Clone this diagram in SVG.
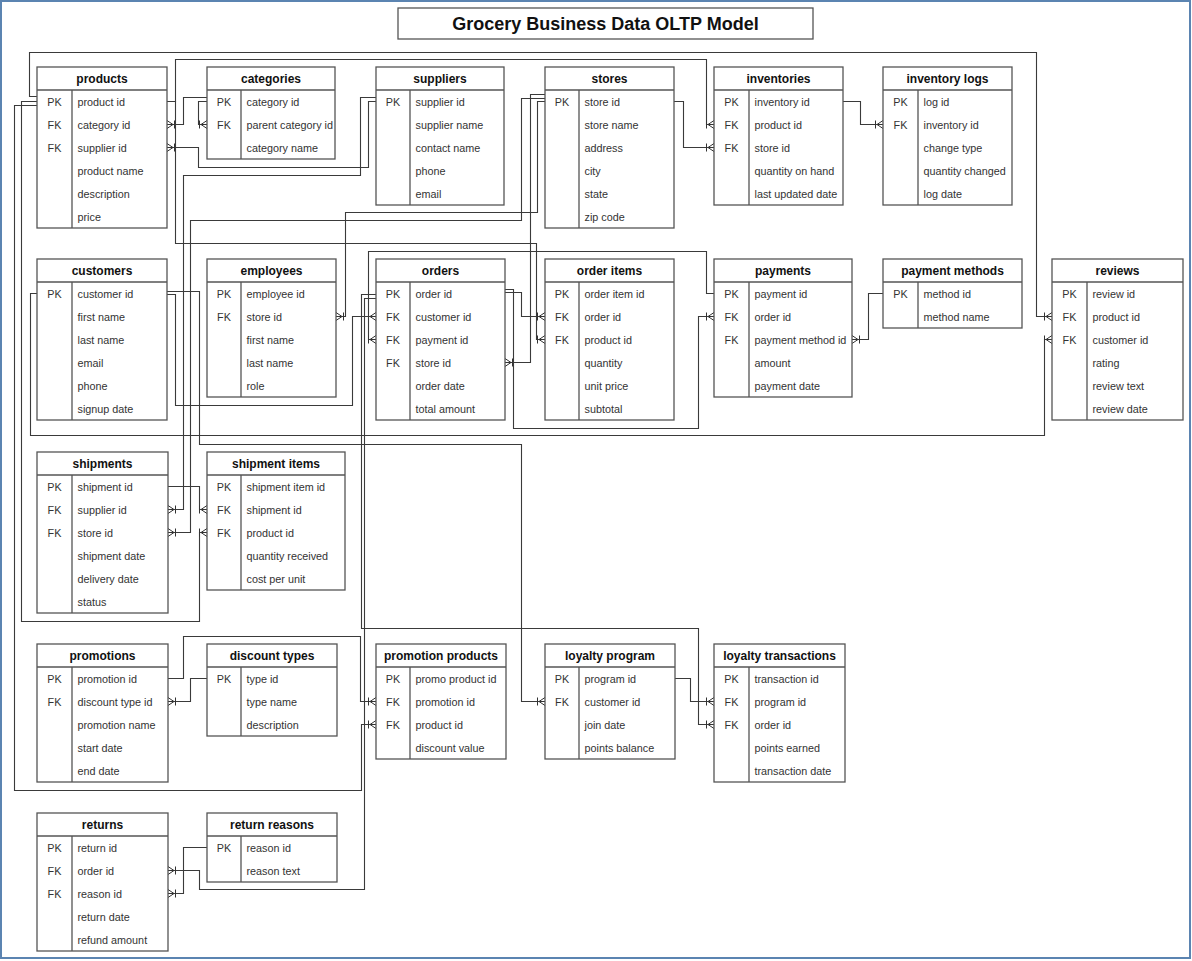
<svg xmlns="http://www.w3.org/2000/svg" width="1192" height="961" viewBox="0 0 1192 961">
<defs>
<style>
.tb{fill:#fff;stroke:#555;stroke-width:1.3}
.ln{fill:none;stroke:#555;stroke-width:1.3}
.h{font-family:"Liberation Sans",Arial,Helvetica,sans-serif;font-size:12px;font-weight:bold;fill:#111;text-anchor:middle}
.k{font-family:"Liberation Sans",Arial,Helvetica,sans-serif;font-size:10.8px;fill:#333;text-anchor:middle}
.f{font-family:"Liberation Sans",Arial,Helvetica,sans-serif;font-size:10.8px;fill:#333}
.c{fill:none;stroke:#3a3a3a;stroke-width:1.1;marker-end:url(#crow)}
</style>
<marker id="crow" viewBox="0 0 9 9" refX="9" refY="4.5" markerWidth="9" markerHeight="9" markerUnits="userSpaceOnUse" orient="auto">
<path d="M1.5,0.5V8.5M3,4.5L9,0.5M3,4.5H9M3,4.5L9,8.5" fill="none" stroke="#333" stroke-width="1"/>
</marker>
</defs>
<rect x="0" y="0" width="1192" height="961" fill="#fff"/>
<rect x="1" y="1" width="1189" height="957" fill="none" stroke="#5b84b1" stroke-width="2"/>
<g id="title">
<rect x="398" y="8" width="415" height="31" fill="#fff" stroke="#555" stroke-width="1.3"/>
<text x="605.5" y="30" font-family="'Liberation Sans',Arial,Helvetica,sans-serif" font-size="18" font-weight="bold" text-anchor="middle" fill="#111">Grocery Business Data OLTP Model</text>
</g>
<g id="connectors">
<path class="c" d="M207,97.5H183.5V124.5H167"/>
<path class="c" d="M207,101.5H198.5V124.5H207"/>
<path class="c" d="M376,101.5H368.5V167.5H198.5V147.5H167"/>
<path class="c" d="M376,97.5H360.5V175.5H183.5V509.5H168"/>
<path class="c" d="M167,101.5H175.5V59.5H706.5V124.5H714"/>
<path class="c" d="M167,101.5H175.5V243.5H536.5V339.5H545"/>
<path class="c" d="M37,96.5H29.5V52.5H1036.5V316.5H1052"/>
<path class="c" d="M37,101.5H21.5V621.5H199.5V532.5H207"/>
<path class="c" d="M37,105.5H14.5V790.5H361.5V724.5H376"/>
<path class="c" d="M674,101.5H683.5V147.5H714"/>
<path class="c" d="M843,101.5H860.5V124.5H883"/>
<path class="c" d="M545,101.5H537.5V212.5H345.5V316.5H336"/>
<path class="c" d="M545,98.5H521.5V220.5H190.5V532.5H168"/>
<path class="c" d="M545,94.5H530.5V362.5H505"/>
<path class="c" d="M167,294.5H175.5V405.5H352.5V316.5H376"/>
<path class="c" d="M167,291.5H199.5V444.5H521.5V701.5H545"/>
<path class="c" d="M37,293.5H30.5V435.5H1044.5V339.5H1052"/>
<path class="c" d="M714,293.5H706.5V251.5H368.5V339.5H376"/>
<path class="c" d="M505,289.5H513.5V428.5H698.5V316.5H714"/>
<path class="c" d="M505,292.5H521.5V316.5H545"/>
<path class="c" d="M376,294.5H361.5V628.5H698.5V724.5H714"/>
<path class="c" d="M376,298.5H364.5V889.5H199.5V870.5H168"/>
<path class="c" d="M883,293.5H868.5V339.5H852"/>
<path class="c" d="M168,486.5H199.5V509.5H207"/>
<path class="c" d="M207,678.5H190.5V701.5H168"/>
<path class="c" d="M168,678.5H183.5V636.5H360.5V701.5H376"/>
<path class="c" d="M675,678.5H690.5V701.5H714"/>
<path class="c" d="M207,847.5H183.5V893.5H168"/>
</g>
<g id="products">
<rect class="tb" x="37" y="67" width="130" height="161"/>
<path class="ln" d="M37,90H167M72,90V228"/>
<text class="h" x="102" y="83">products</text>
<text class="k" x="54.5" y="105.5">PK</text><text class="k" x="54.5" y="128.5">FK</text><text class="k" x="54.5" y="151.5">FK</text>
<text class="f" x="77.5" y="105.5">product id</text><text class="f" x="77.5" y="128.5">category id</text><text class="f" x="77.5" y="151.5">supplier id</text><text class="f" x="77.5" y="174.5">product name</text><text class="f" x="77.5" y="197.5">description</text><text class="f" x="77.5" y="220.5">price</text>
</g>
<g id="categories">
<rect class="tb" x="207" y="67" width="128" height="92"/>
<path class="ln" d="M207,90H335M241,90V159"/>
<text class="h" x="271" y="83">categories</text>
<text class="k" x="224" y="105.5">PK</text><text class="k" x="224" y="128.5">FK</text>
<text class="f" x="246.5" y="105.5">category id</text><text class="f" x="246.5" y="128.5">parent category id</text><text class="f" x="246.5" y="151.5">category name</text>
</g>
<g id="suppliers">
<rect class="tb" x="376" y="67" width="128" height="138"/>
<path class="ln" d="M376,90H504M410,90V205"/>
<text class="h" x="440" y="83">suppliers</text>
<text class="k" x="393" y="105.5">PK</text>
<text class="f" x="415.5" y="105.5">supplier id</text><text class="f" x="415.5" y="128.5">supplier name</text><text class="f" x="415.5" y="151.5">contact name</text><text class="f" x="415.5" y="174.5">phone</text><text class="f" x="415.5" y="197.5">email</text>
</g>
<g id="stores">
<rect class="tb" x="545" y="67" width="129" height="161"/>
<path class="ln" d="M545,90H674M579,90V228"/>
<text class="h" x="609.5" y="83">stores</text>
<text class="k" x="562" y="105.5">PK</text>
<text class="f" x="584.5" y="105.5">store id</text><text class="f" x="584.5" y="128.5">store name</text><text class="f" x="584.5" y="151.5">address</text><text class="f" x="584.5" y="174.5">city</text><text class="f" x="584.5" y="197.5">state</text><text class="f" x="584.5" y="220.5">zip code</text>
</g>
<g id="inventories">
<rect class="tb" x="714" y="67" width="129" height="138"/>
<path class="ln" d="M714,90H843M749,90V205"/>
<text class="h" x="778.5" y="83">inventories</text>
<text class="k" x="731.5" y="105.5">PK</text><text class="k" x="731.5" y="128.5">FK</text><text class="k" x="731.5" y="151.5">FK</text>
<text class="f" x="754.5" y="105.5">inventory id</text><text class="f" x="754.5" y="128.5">product id</text><text class="f" x="754.5" y="151.5">store id</text><text class="f" x="754.5" y="174.5">quantity on hand</text><text class="f" x="754.5" y="197.5">last updated date</text>
</g>
<g id="inventory_logs">
<rect class="tb" x="883" y="67" width="129" height="138"/>
<path class="ln" d="M883,90H1012M918,90V205"/>
<text class="h" x="947.5" y="83">inventory logs</text>
<text class="k" x="900.5" y="105.5">PK</text><text class="k" x="900.5" y="128.5">FK</text>
<text class="f" x="923.5" y="105.5">log id</text><text class="f" x="923.5" y="128.5">inventory id</text><text class="f" x="923.5" y="151.5">change type</text><text class="f" x="923.5" y="174.5">quantity changed</text><text class="f" x="923.5" y="197.5">log date</text>
</g>
<g id="customers">
<rect class="tb" x="37" y="259" width="130" height="161"/>
<path class="ln" d="M37,282H167M72,282V420"/>
<text class="h" x="102" y="275">customers</text>
<text class="k" x="54.5" y="297.5">PK</text>
<text class="f" x="77.5" y="297.5">customer id</text><text class="f" x="77.5" y="320.5">first name</text><text class="f" x="77.5" y="343.5">last name</text><text class="f" x="77.5" y="366.5">email</text><text class="f" x="77.5" y="389.5">phone</text><text class="f" x="77.5" y="412.5">signup date</text>
</g>
<g id="employees">
<rect class="tb" x="207" y="259" width="129" height="138"/>
<path class="ln" d="M207,282H336M241,282V397"/>
<text class="h" x="271.5" y="275">employees</text>
<text class="k" x="224" y="297.5">PK</text><text class="k" x="224" y="320.5">FK</text>
<text class="f" x="246.5" y="297.5">employee id</text><text class="f" x="246.5" y="320.5">store id</text><text class="f" x="246.5" y="343.5">first name</text><text class="f" x="246.5" y="366.5">last name</text><text class="f" x="246.5" y="389.5">role</text>
</g>
<g id="orders">
<rect class="tb" x="376" y="259" width="129" height="161"/>
<path class="ln" d="M376,282H505M410,282V420"/>
<text class="h" x="440.5" y="275">orders</text>
<text class="k" x="393" y="297.5">PK</text><text class="k" x="393" y="320.5">FK</text><text class="k" x="393" y="343.5">FK</text><text class="k" x="393" y="366.5">FK</text>
<text class="f" x="415.5" y="297.5">order id</text><text class="f" x="415.5" y="320.5">customer id</text><text class="f" x="415.5" y="343.5">payment id</text><text class="f" x="415.5" y="366.5">store id</text><text class="f" x="415.5" y="389.5">order date</text><text class="f" x="415.5" y="412.5">total amount</text>
</g>
<g id="order_items">
<rect class="tb" x="545" y="259" width="129" height="161"/>
<path class="ln" d="M545,282H674M579,282V420"/>
<text class="h" x="609.5" y="275">order items</text>
<text class="k" x="562" y="297.5">PK</text><text class="k" x="562" y="320.5">FK</text><text class="k" x="562" y="343.5">FK</text>
<text class="f" x="584.5" y="297.5">order item id</text><text class="f" x="584.5" y="320.5">order id</text><text class="f" x="584.5" y="343.5">product id</text><text class="f" x="584.5" y="366.5">quantity</text><text class="f" x="584.5" y="389.5">unit price</text><text class="f" x="584.5" y="412.5">subtotal</text>
</g>
<g id="payments">
<rect class="tb" x="714" y="259" width="138" height="138"/>
<path class="ln" d="M714,282H852M749,282V397"/>
<text class="h" x="783" y="275">payments</text>
<text class="k" x="731.5" y="297.5">PK</text><text class="k" x="731.5" y="320.5">FK</text><text class="k" x="731.5" y="343.5">FK</text>
<text class="f" x="754.5" y="297.5">payment id</text><text class="f" x="754.5" y="320.5">order id</text><text class="f" x="754.5" y="343.5">payment method id</text><text class="f" x="754.5" y="366.5">amount</text><text class="f" x="754.5" y="389.5">payment date</text>
</g>
<g id="payment_methods">
<rect class="tb" x="883" y="259" width="139" height="69"/>
<path class="ln" d="M883,282H1022M918,282V328"/>
<text class="h" x="952.5" y="275">payment methods</text>
<text class="k" x="900.5" y="297.5">PK</text>
<text class="f" x="923.5" y="297.5">method id</text><text class="f" x="923.5" y="320.5">method name</text>
</g>
<g id="reviews">
<rect class="tb" x="1052" y="259" width="131" height="161"/>
<path class="ln" d="M1052,282H1183M1087,282V420"/>
<text class="h" x="1117.5" y="275">reviews</text>
<text class="k" x="1069.5" y="297.5">PK</text><text class="k" x="1069.5" y="320.5">FK</text><text class="k" x="1069.5" y="343.5">FK</text>
<text class="f" x="1092.5" y="297.5">review id</text><text class="f" x="1092.5" y="320.5">product id</text><text class="f" x="1092.5" y="343.5">customer id</text><text class="f" x="1092.5" y="366.5">rating</text><text class="f" x="1092.5" y="389.5">review text</text><text class="f" x="1092.5" y="412.5">review date</text>
</g>
<g id="shipments">
<rect class="tb" x="37" y="452" width="131" height="161"/>
<path class="ln" d="M37,475H168M72,475V613"/>
<text class="h" x="102.5" y="468">shipments</text>
<text class="k" x="54.5" y="490.5">PK</text><text class="k" x="54.5" y="513.5">FK</text><text class="k" x="54.5" y="536.5">FK</text>
<text class="f" x="77.5" y="490.5">shipment id</text><text class="f" x="77.5" y="513.5">supplier id</text><text class="f" x="77.5" y="536.5">store id</text><text class="f" x="77.5" y="559.5">shipment date</text><text class="f" x="77.5" y="582.5">delivery date</text><text class="f" x="77.5" y="605.5">status</text>
</g>
<g id="shipment_items">
<rect class="tb" x="207" y="452" width="138" height="138"/>
<path class="ln" d="M207,475H345M241,475V590"/>
<text class="h" x="276" y="468">shipment items</text>
<text class="k" x="224" y="490.5">PK</text><text class="k" x="224" y="513.5">FK</text><text class="k" x="224" y="536.5">FK</text>
<text class="f" x="246.5" y="490.5">shipment item id</text><text class="f" x="246.5" y="513.5">shipment id</text><text class="f" x="246.5" y="536.5">product id</text><text class="f" x="246.5" y="559.5">quantity received</text><text class="f" x="246.5" y="582.5">cost per unit</text>
</g>
<g id="promotions">
<rect class="tb" x="37" y="644" width="131" height="138"/>
<path class="ln" d="M37,667H168M72,667V782"/>
<text class="h" x="102.5" y="660">promotions</text>
<text class="k" x="54.5" y="682.5">PK</text><text class="k" x="54.5" y="705.5">FK</text>
<text class="f" x="77.5" y="682.5">promotion id</text><text class="f" x="77.5" y="705.5">discount type id</text><text class="f" x="77.5" y="728.5">promotion name</text><text class="f" x="77.5" y="751.5">start date</text><text class="f" x="77.5" y="774.5">end date</text>
</g>
<g id="discount_types">
<rect class="tb" x="207" y="644" width="130" height="92"/>
<path class="ln" d="M207,667H337M241,667V736"/>
<text class="h" x="272" y="660">discount types</text>
<text class="k" x="224" y="682.5">PK</text>
<text class="f" x="246.5" y="682.5">type id</text><text class="f" x="246.5" y="705.5">type name</text><text class="f" x="246.5" y="728.5">description</text>
</g>
<g id="promotion_products">
<rect class="tb" x="376" y="644" width="130" height="115"/>
<path class="ln" d="M376,667H506M410,667V759"/>
<text class="h" x="441" y="660">promotion products</text>
<text class="k" x="393" y="682.5">PK</text><text class="k" x="393" y="705.5">FK</text><text class="k" x="393" y="728.5">FK</text>
<text class="f" x="415.5" y="682.5">promo product id</text><text class="f" x="415.5" y="705.5">promotion id</text><text class="f" x="415.5" y="728.5">product id</text><text class="f" x="415.5" y="751.5">discount value</text>
</g>
<g id="loyalty_program">
<rect class="tb" x="545" y="644" width="130" height="115"/>
<path class="ln" d="M545,667H675M579,667V759"/>
<text class="h" x="610" y="660">loyalty program</text>
<text class="k" x="562" y="682.5">PK</text><text class="k" x="562" y="705.5">FK</text>
<text class="f" x="584.5" y="682.5">program id</text><text class="f" x="584.5" y="705.5">customer id</text><text class="f" x="584.5" y="728.5">join date</text><text class="f" x="584.5" y="751.5">points balance</text>
</g>
<g id="loyalty_transactions">
<rect class="tb" x="714" y="644" width="131" height="138"/>
<path class="ln" d="M714,667H845M749,667V782"/>
<text class="h" x="779.5" y="660">loyalty transactions</text>
<text class="k" x="731.5" y="682.5">PK</text><text class="k" x="731.5" y="705.5">FK</text><text class="k" x="731.5" y="728.5">FK</text>
<text class="f" x="754.5" y="682.5">transaction id</text><text class="f" x="754.5" y="705.5">program id</text><text class="f" x="754.5" y="728.5">order id</text><text class="f" x="754.5" y="751.5">points earned</text><text class="f" x="754.5" y="774.5">transaction date</text>
</g>
<g id="returns">
<rect class="tb" x="37" y="813" width="131" height="138"/>
<path class="ln" d="M37,836H168M72,836V951"/>
<text class="h" x="102.5" y="829">returns</text>
<text class="k" x="54.5" y="851.5">PK</text><text class="k" x="54.5" y="874.5">FK</text><text class="k" x="54.5" y="897.5">FK</text>
<text class="f" x="77.5" y="851.5">return id</text><text class="f" x="77.5" y="874.5">order id</text><text class="f" x="77.5" y="897.5">reason id</text><text class="f" x="77.5" y="920.5">return date</text><text class="f" x="77.5" y="943.5">refund amount</text>
</g>
<g id="return_reasons">
<rect class="tb" x="207" y="813" width="130" height="69"/>
<path class="ln" d="M207,836H337M241,836V882"/>
<text class="h" x="272" y="829">return reasons</text>
<text class="k" x="224" y="851.5">PK</text>
<text class="f" x="246.5" y="851.5">reason id</text><text class="f" x="246.5" y="874.5">reason text</text>
</g>
</svg>
